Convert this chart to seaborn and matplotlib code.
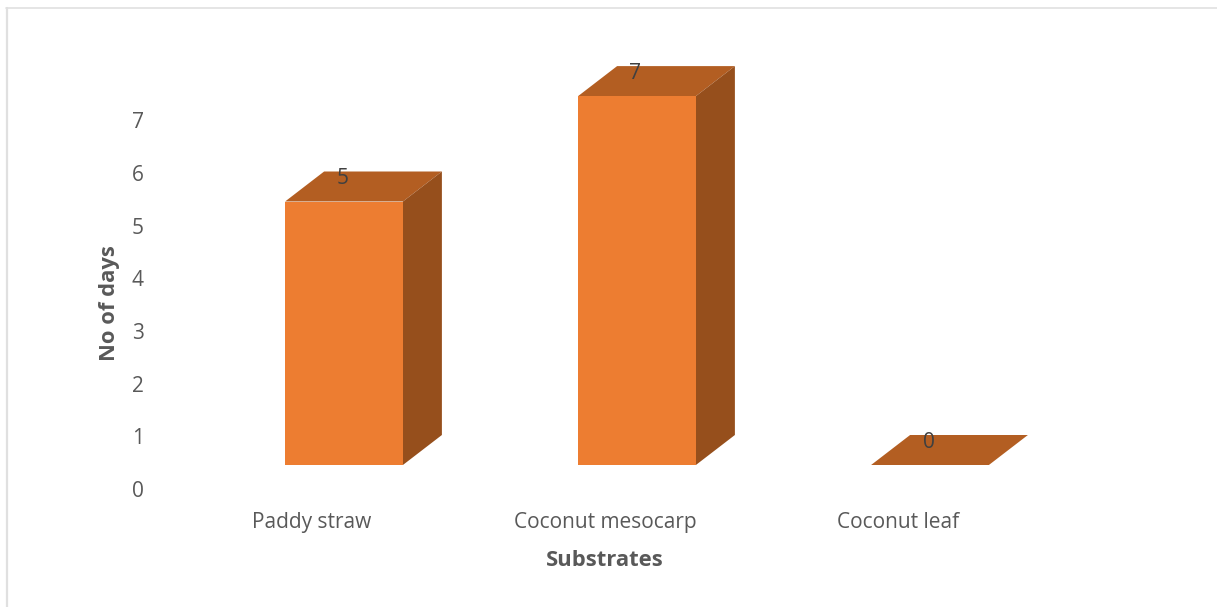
import matplotlib
matplotlib.use("Agg")
import matplotlib.pyplot as plt
import pandas as pd
import seaborn as sns
from matplotlib.lines import Line2D
from matplotlib.patches import Polygon
from matplotlib.transforms import IdentityTransform

substrates = ["Paddy straw", "Coconut mesocarp", "Coconut leaf"]
days = [5, 7, 0]
y_ticks = [0, 1, 2, 3, 4, 5, 6, 7]

FRONT = "#ED7D31"
TOP = "#B35E22"
SIDE = "#964F1C"
TEXT = "#595959"
W, H = 1217, 607

sns.set_theme(style="white")
plt.rcParams["font.family"] = ["Open Sans", "DejaVu Sans"]

fig = plt.figure(figsize=(W / 100, H / 100), dpi=100, facecolor="white")

# Axes placed in pixel terms: category spacing 293 px, one y unit 52.7 px
left, right, base, top = 165.5, 1044.5, 489.0, 67.4
ax = fig.add_axes([left / W, 1 - base / H, (right - left) / W, (base - top) / H])

frame = pd.DataFrame({"substrate": substrates, "days": days})
sns.barplot(data=frame, x="substrate", y="days", color=FRONT, saturation=1,
            width=0.402, ax=ax, zorder=3)
ax.set_xlim(-0.5, 2.5)
ax.set_ylim(0, 8)
ax.set_yticks(y_ticks)
ax.tick_params(axis="both", length=0, labelsize=15, labelcolor=TEXT)
ax.tick_params(axis="x", pad=16.4)
ax.tick_params(axis="y", pad=15.5)
for side in ax.spines.values():
    side.set_visible(False)
ax.patch.set_alpha(0)
ax.set_xlabel("Substrates", fontsize=15.8, fontweight="bold", color=TEXT, labelpad=12.4)
ax.set_ylabel("No of days", fontsize=15.8, fontweight="bold", color=TEXT, labelpad=8.4, y=0.441)

# The box sits shifted from the axis origin and recedes up and to the right
SHIFT_X, SHIFT_Y = 32, 24
DEPTH_X, DEPTH_Y = 39, 30
fig.canvas.draw()
for rect, value in zip(ax.patches, days):
    (x0, y0), (x1, y1) = ax.transData.transform(
        [(rect.get_x(), 0), (rect.get_x() + rect.get_width(), value)])
    x0, x1 = x0 + SHIFT_X, x1 + SHIFT_X
    y0, y1 = y0 + SHIFT_Y, y1 + SHIFT_Y
    faces = [
        ([(x0, y1), (x1, y1), (x1 + DEPTH_X, y1 + DEPTH_Y), (x0 + DEPTH_X, y1 + DEPTH_Y)], TOP),
        ([(x1, y0), (x1 + DEPTH_X, y0 + DEPTH_Y), (x1 + DEPTH_X, y1 + DEPTH_Y), (x1, y1)], SIDE),
    ]
    for corners, shade in faces:
        fig.add_artist(Polygon(corners, closed=True, facecolor=shade, edgecolor="none",
                               transform=IdentityTransform(), zorder=3))
    rect.set_visible(False)
    if value > 0:
        fig.add_artist(Polygon([(x0, y0), (x1, y0), (x1, y1), (x0, y1)], closed=True,
                               facecolor=FRONT, edgecolor="none",
                               transform=IdentityTransform(), zorder=3))
    fig.text((x0 + x1) / 2 + DEPTH_X / 2 - 21, y1 + DEPTH_Y - 7, str(value),
             transform=IdentityTransform(), ha="center", va="center",
             fontsize=15, color="#404040", zorder=5)

# Pale outer frame along the top and left edges
frame_colour = "#E0E0E0"
fig.add_artist(Line2D([7, 7], [0, H - 8], color=frame_colour, lw=1.6,
                      transform=IdentityTransform()))
fig.add_artist(Line2D([6, W], [H - 8, H - 8], color=frame_colour, lw=1.2,
                      transform=IdentityTransform()))

fig.savefig("out.png", dpi=100, facecolor="white")
